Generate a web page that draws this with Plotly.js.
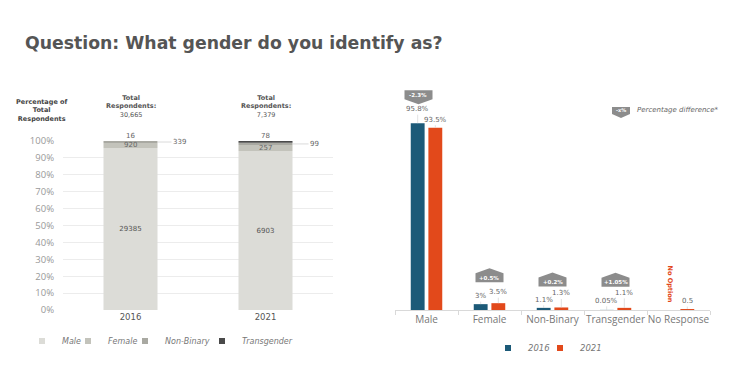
<!DOCTYPE html>
<html>
<head>
<meta charset="utf-8">
<script src="https://cdn.plot.ly/plotly-3.0.1.min.js"></script>
<style>html,body{margin:0;padding:0;background:#fff;}#chart{width:750px;height:383px;}</style>
</head>
<body>
<div id="chart"></div>
<script>
// ---- data ----
const years = ['2016', '2021'];
const genders = ['Male', 'Female', 'Non-Binary', 'Transgender'];
const counts2016 = [29385, 920, 339, 16];
const counts2021 = [6903, 257, 99, 78];
const totalRespondents = ['30,665', '7,379'];

const categories = ['Male', 'Female', 'Non-Binary', 'Transgender', 'No Response'];
const pct2016 = [95.8, 3, 1.1, 0.05, null];
const pct2021 = [93.5, 3.5, 1.3, 1.1, 0.5];
const pctLabels2016 = ['95.8%', '3%', '1.1%', '0.05%', ''];
const pctLabels2021 = ['93.5%', '3.5%', '1.3%', '1.1%', '0.5'];
const diffLabels = ['-2.3%', '+0.5%', '+0.2%', '+1.05%', null];
const noOptionLabel = 'No Option';

// ---- styles ----
const genderColors = ['#dcdcd7', '#c3c3bb', '#a9a9a2', '#4a4a4a'];
const c2016 = '#1c5a78', c2021 = '#e2491b';
const badgeColor = '#8c8c8c';
const lift2016 = [14, 8, 8, 9, 0];
const lift2021 = [8, 11, 14, 15, 8];
const genderLegendTextX = [62, 108, 165, 242];
const yearLegendTextX = [528, 580];

const countsByYear = [counts2016, counts2021];
const shares = countsByYear.map(c => { const t = c.reduce((a, b) => a + b, 0); return c.map(v => v / t * 100); });
const bases = shares.map(s => { let acc = 0; return s.map(v => { const b = acc; acc += v; return b; }); });
const yearIdx = years.map((y, i) => i);
const catIdx = categories.map((c, i) => i);

const legendFont = {family: 'DejaVu Sans', size: 8, color: '#777', style: 'italic'};
const layoutLegends = {};
const traces = [];
function legendProxy(name, color, lg, axX, axY) {
  return {type: 'scatter', mode: 'markers', name: name, x: [null], y: [null], xaxis: axX, yaxis: axY, legend: lg,
    marker: {symbol: 'square', size: 6, color: color}, hoverinfo: 'skip'};
}
genders.forEach((g, i) => {
  const lg = i === 0 ? 'legend' : 'legend' + (i + 1);
  layoutLegends[lg] = {orientation: 'h', x: (genderLegendTextX[i] - 40) / 750, y: 1 - 341 / 383, xanchor: 'left', yanchor: 'middle',
    font: legendFont, bgcolor: 'rgba(0,0,0,0)', itemsizing: 'trace'};
  traces.push({
    type: 'bar', name: g, x: yearIdx, y: shares.map(s => s[i]), base: bases.map(b => b[i]),
    width: 0.4, offset: -0.2, xaxis: 'x', yaxis: 'y', showlegend: false,
    marker: {color: genderColors[i], line: {width: 0}},
    text: i === 0 ? countsByYear.map(c => String(c[0])) : undefined,
    textposition: i === 0 ? 'inside' : 'none', insidetextanchor: 'middle', textangle: 0,
    textfont: {family: 'DejaVu Sans', size: 7, color: '#555'},
    hoverinfo: 'skip'
  });
  traces.push(legendProxy(g, genderColors[i], lg, 'x', 'y'));
});
[['2016', pct2016, -0.25, c2016], ['2021', pct2021, 0.03, c2021]].forEach(([nm, vals, off, col], k) => {
  const lg = 'legend' + (5 + k);
  layoutLegends[lg] = {orientation: 'h', x: (yearLegendTextX[k] - 40) / 750, y: 1 - 348 / 383, xanchor: 'left', yanchor: 'middle',
    font: Object.assign({}, legendFont, {size: 8.5}), bgcolor: 'rgba(0,0,0,0)', itemsizing: 'trace'};
  traces.push({type: 'bar', name: nm, x: catIdx, y: vals, width: 0.22, offset: off,
    xaxis: 'x2', yaxis: 'y2', showlegend: false, marker: {color: col}, hoverinfo: 'skip'});
  traces.push(legendProxy(nm, col, lg, 'x2', 'y2'));
});

const ann = [];
const shapes = [];
const small = {family: 'DejaVu Sans', size: 7, color: '#666'};

// left chart labels
years.forEach((yr, k) => {
  const s = shares[k], b = bases[k], c = countsByYear[k];
  ann.push({x: k, y: b[1] + s[1] / 2, xref: 'x', yref: 'y', text: String(c[1]), showarrow: false, font: small});
  ann.push({x: k, y: b[2] + s[2] / 2, xref: 'x', yref: 'y', xshift: 27, text: String(c[2]), showarrow: true,
    arrowhead: 0, arrowwidth: 0.8, arrowcolor: '#d0d0d0', ax: 22, ay: 0, font: small});
  ann.push({x: k, y: b[3] + s[3], xref: 'x', yref: 'y', yanchor: 'bottom', yshift: -1, text: String(c[3]), showarrow: false, font: small});
  ann.push({x: k, y: 100, xref: 'x', yref: 'y', yanchor: 'bottom', yshift: 20,
    text: '<b>Total<br>Respondents:</b><br>' + totalRespondents[k], showarrow: false,
    font: {family: 'DejaVu Sans', size: 6.5, color: '#555'}});
});
ann.push({x: 42 / 750, y: 1 - 110 / 383, xref: 'paper', yref: 'paper', xanchor: 'center', yanchor: 'middle',
  text: '<b>Percentage of<br>Total<br>Respondents</b>', showarrow: false, font: {family: 'DejaVu Sans', size: 6.5, color: '#444'}});

// right chart labels
categories.forEach((cat, i) => {
  if (pct2016[i] !== null) {
    ann.push({x: i - 0.14, y: pct2016[i], xref: 'x2', yref: 'y2', text: pctLabels2016[i], showarrow: true,
      arrowhead: 0, arrowwidth: 0.6, arrowcolor: '#ccc', ax: 0, ay: -lift2016[i], font: small});
  }
  ann.push({x: i + 0.14, y: pct2021[i], xref: 'x2', yref: 'y2', text: pctLabels2021[i], showarrow: true,
    arrowhead: 0, arrowwidth: 0.6, arrowcolor: '#ccc', ax: 0, ay: -lift2021[i], font: small});
  if (diffLabels[i]) {
    const top = Math.max(pct2016[i] || 0, pct2021[i] || 0);
    const down = diffLabels[i].startsWith('-');
    const b = down ? 19 : 21;
    const dx = down ? -8 : 0;
    const path = down
      ? `M${dx - 14},${b + 14} L${dx + 14},${b + 14} L${dx + 14},${b + 5} L${dx},${b} L${dx - 14},${b + 5} Z`
      : `M-14,${b} L14,${b} L14,${b + 9} L0,${b + 14} L-14,${b + 9} Z`;
    shapes.push({type: 'path', xref: 'x2', yref: 'y2', xsizemode: 'pixel', ysizemode: 'pixel',
      xanchor: i, yanchor: top, path: path, fillcolor: badgeColor, line: {width: 0}});
    ann.push({x: i, y: top, xref: 'x2', yref: 'y2', xshift: dx, yshift: down ? b + 9.5 : b + 4.5, yanchor: 'middle', xanchor: 'center',
      text: '<b>' + diffLabels[i] + '</b>', showarrow: false,
      font: {family: 'DejaVu Sans', size: 5.5, color: '#fff'}});
  }
});
ann.push({x: 4, y: 0, xref: 'x2', yref: 'y2', xshift: -9, yshift: 26, text: '<b>' + noOptionLabel + '</b>', textangle: 90,
  showarrow: false, font: {family: 'DejaVu Sans', size: 6.5, color: c2021}});

// percentage difference key
shapes.push({type: 'path', xref: 'paper', yref: 'paper', xsizemode: 'pixel', ysizemode: 'pixel',
  xanchor: 621 / 750, yanchor: 1 - 118 / 383, path: 'M-9,11 L9,11 L9,4 L0,0 L-9,4 Z', fillcolor: badgeColor, line: {width: 0}});
ann.push({x: 621 / 750, y: 1 - 110.5 / 383, xref: 'paper', yref: 'paper', xanchor: 'center', yanchor: 'middle', text: '<b>-x%</b>', showarrow: false,
  font: {family: 'DejaVu Sans', size: 5, color: '#fff'}});
ann.push({x: 635 / 750, y: 1 - 110.5 / 383, xref: 'paper', yref: 'paper', xanchor: 'left', yanchor: 'middle', text: '<i>Percentage difference*</i>',
  showarrow: false, font: {family: 'DejaVu Sans', size: 7, color: '#666'}});

const layout = Object.assign({
  width: 750, height: 383, margin: {l: 0, r: 0, t: 0, b: 0},
  paper_bgcolor: '#fff', plot_bgcolor: 'rgba(0,0,0,0)', barmode: 'overlay',
  title: {text: '<b>Question: What gender do you identify as?</b>', x: 25 / 750, xanchor: 'left', y: 1 - 43 / 383, yanchor: 'middle',
    font: {family: 'DejaVu Sans', size: 17.3, color: '#555'}},
  xaxis: {domain: [63 / 750, 333 / 750], range: [-0.5, 1.5], tickvals: yearIdx, ticktext: years, showline: false, ticks: '',
    showgrid: false, zeroline: false, tickfont: {family: 'DejaVu Sans', size: 8.5, color: '#555'}},
  yaxis: {domain: [1 - 310 / 383, 1 - 141 / 383], range: [0, 100], dtick: 10, ticksuffix: '%', showline: false, zeroline: false,
    gridcolor: '#ececec', gridwidth: 1, ticklabelstandoff: 8, tickfont: {family: 'Open Sans', size: 9.5, color: '#999'}},
  xaxis2: {domain: [395 / 750, 710 / 750], range: [-0.5, 4.5], tickvals: catIdx, ticktext: categories, tickangle: 0,
    showgrid: false, zeroline: false, showline: true, linecolor: '#d9d9d9', ticks: '', anchor: 'y2',
    minor: {ticks: 'outside', tick0: -0.5, dtick: 1, ticklen: 4, tickcolor: '#d9d9d9', showgrid: false},
    tickfont: {family: 'Open Sans', size: 10, color: '#777'}},
  yaxis2: {domain: [1 - 310 / 383, 1 - 80 / 383], range: [0, 230 / 1.95], visible: false, anchor: 'x2'},
  annotations: ann, shapes: shapes, showlegend: true
}, layoutLegends);
Plotly.newPlot('chart', traces, layout, {displayModeBar: false, staticPlot: true});
</script>
</body>
</html>
